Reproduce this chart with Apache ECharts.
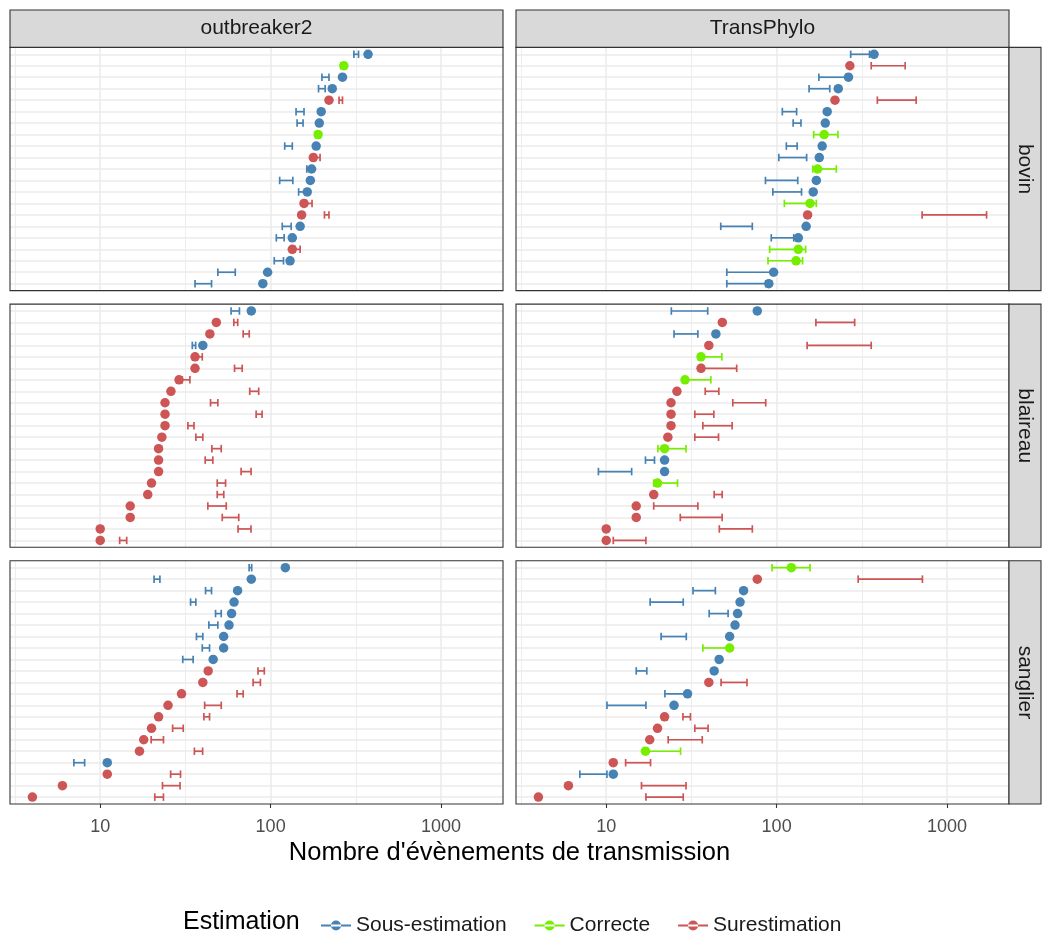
<!DOCTYPE html>
<html>
<head>
<meta charset="utf-8">
<script src="https://cdn.jsdelivr.net/npm/echarts@6/dist/echarts.min.js"></script>
<style>
  html, body { margin: 0; padding: 0; background: #fff; }
  #chart { width: 1047px; height: 936px; }
</style>
</head>
<body>
<div id="chart"></div>
<script>
// valeurs
const methods = ['outbreaker2', 'TransPhylo']
const hosts = ['bovin', 'blaireau', 'sanglier']
const statusNames = ['Sous-estimation', 'Correcte', 'Surestimation']
const statusColors = ['#4682B4', '#76EE00', '#CD5555']
const majorBreaks = [10, 100, 1000]
const minorBreaks = [3.1623, 31.623, 316.23]

// bovin : valeur réelle puis intervalles estimés
const bovinReal = [373, 269, 264, 230, 220, 198, 193, 190, 185, 178, 174, 171, 164, 157, 152, 149, 134, 134, 130, 96, 90]
const bovinOutbreakerLow = [308, 258, 200, 191, 252, 141, 143, 183, 121, 183, 163, 113, 146, 162, 207, 117, 108, 139, 105, 49, 36]
const bovinOutbreakerHigh = [328, 278, 220, 209, 264, 157, 155, 196, 134, 195, 170, 135, 160, 175, 220, 132, 120, 149, 119, 62, 45]
const bovinTransPhyloLow = [272, 359, 177, 155, 390, 108, 125, 165, 114, 103, 163, 86, 95, 111, 714, 47, 93, 91, 89, 51, 51]
const bovinTransPhyloHigh = [351, 568, 257, 205, 659, 131, 139, 229, 132, 150, 224, 133, 140, 171, 1706, 72, 126, 148, 142, 95, 86.5]

// blaireau
const blaireauReal = [77, 48, 44, 40, 36, 36, 29, 26, 24, 24, 24, 23, 22, 22, 22, 20, 19, 15, 15, 10, 10]
const blaireauOutbreakerLow = [58.6, 60.8, 69, 34.7, 36.3, 61.4, 30.3, 75.4, 44.4, 82.2, 32.7, 36.4, 45.2, 41.3, 67.1, 48.6, 48.6, 42.8, 52, 64.4, 13]
const blaireauOutbreakerHigh = [65.6, 64.1, 74.9, 36.3, 39.7, 68.1, 33.6, 85.1, 49, 89.1, 35.5, 40, 51.3, 45.8, 76.8, 54.4, 53.1, 54.9, 65, 76.7, 14.3]
const blaireauTransPhyloLow = [24.1, 170, 25, 151, 34.8, 37.2, 28.5, 38.1, 55.3, 33.1, 36.9, 33.1, 20.1, 17, 9, 19, 43, 19, 27.2, 46.1, 11]
const blaireauTransPhyloHigh = [39.4, 287, 34.5, 359, 47.7, 58.3, 41.1, 45.8, 86.3, 42.8, 54.8, 45.6, 29.4, 19.2, 14.1, 26.2, 47.9, 34.5, 47.9, 72, 17.1]

// sanglier
const sanglierReal = [122, 77, 64, 61, 59, 57, 53, 53, 46, 43, 40, 30, 25, 22, 20, 18, 17, 11, 11, 6, 4]
const sanglierOutbreakerLow = [74.8, 20.7, 41.5, 33.9, 47.5, 43.4, 36.7, 39.7, 30.5, 84.3, 78.9, 63.5, 41, 40.6, 26.6, 19.9, 35.7, 7, 25.9, 23.2, 20.9]
const sanglierOutbreakerHigh = [77.4, 22.4, 45, 36.4, 51.3, 49, 40, 43.8, 35.1, 91.8, 87.1, 69, 51.3, 43.8, 30.7, 23.5, 39.9, 8.1, 29.6, 29.4, 23.5]
const sanglierTransPhyloLow = [94, 301, 32.3, 18.1, 40.2, 55.6, 21, 36.9, 44.6, 15, 47.2, 22.1, 10.1, 28.2, 33.1, 23.1, 16.9, 13, 7, 16.1, 17.1]
const sanglierTransPhyloHigh = [157, 717, 43.7, 28.3, 51.9, 56.4, 29.5, 54, 45.4, 17.3, 67, 29.8, 17.1, 31.2, 39.6, 36.6, 27.3, 18.2, 10.1, 29.4, 28.3]

const hostData = {
  bovin: { real: bovinReal, outbreaker2: [bovinOutbreakerLow, bovinOutbreakerHigh], TransPhylo: [bovinTransPhyloLow, bovinTransPhyloHigh] },
  blaireau: { real: blaireauReal, outbreaker2: [blaireauOutbreakerLow, blaireauOutbreakerHigh], TransPhylo: [blaireauTransPhyloLow, blaireauTransPhyloHigh] },
  sanglier: { real: sanglierReal, outbreaker2: [sanglierOutbreakerLow, sanglierOutbreakerHigh], TransPhylo: [sanglierTransPhyloLow, sanglierTransPhyloHigh] }
}

// mise en page (px)
const font = '"Liberation Sans", Arial, sans-serif'
const colLeft = [10, 516]
const rowTop = [47.4, 304.1, 560.8]
const panelW = 493
const panelH = 243.2
const stripH = 37.4
const stripW = 32
const xMin = 2.955
const xMax = 2310
const rowCount = bovinReal.length

// 0 = sous-estimation, 1 = correcte, 2 = surestimation
function statusOf (real, lo, hi) {
  if (hi < real) return 0
  if (lo > real) return 2
  return 1
}

// barre d'erreur horizontale avec ses deux bouts
function renderErrorBar (params, api) {
  const y = api.value(2)
  const a = api.coord([api.value(0), y])
  const b = api.coord([api.value(1), y])
  const h = 7.5
  const style = { stroke: api.visual('color'), lineWidth: 1.7, fill: null }
  return {
    type: 'group',
    children: [
      { type: 'line', shape: { x1: a[0], y1: a[1], x2: b[0], y2: b[1] }, style },
      { type: 'line', shape: { x1: a[0], y1: a[1] - h / 2, x2: a[0], y2: a[1] + h / 2 }, style },
      { type: 'line', shape: { x1: b[0], y1: b[1] - h / 2, x2: b[0], y2: b[1] + h / 2 }, style }
    ]
  }
}

const grids = []
const xAxes = []
const yAxes = []
const series = []
const graphics = []
const rowTicks = []
for (let i = 0; i < rowCount; i++) rowTicks.push(i)

hosts.forEach((host, r) => {
  methods.forEach((method, c) => {
    const k = r * 2 + c
    const isBottom = r === hosts.length - 1
    grids.push({ left: colLeft[c], top: rowTop[r], width: panelW, height: panelH, show: false })

    // lignes de grille secondaires
    xAxes.push({
      type: 'log', gridIndex: k, min: xMin, max: xMax, position: 'bottom',
      axisLine: { show: false },
      axisTick: { show: false, customValues: minorBreaks },
      axisLabel: { show: false },
      splitLine: { show: true, lineStyle: { color: '#EBEBEB', width: 0.9 } }
    })
    // lignes principales, graduations et étiquettes
    xAxes.push({
      type: 'log', gridIndex: k, min: xMin, max: xMax, position: 'bottom',
      axisLine: { show: false },
      axisTick: { show: isBottom, customValues: majorBreaks, length: 4, lineStyle: { color: '#333333', width: 1.1 } },
      axisLabel: {
        show: isBottom, customValues: majorBreaks, margin: 14,
        color: '#4D4D4D', fontSize: 18, fontFamily: font,
        formatter: v => String(Math.round(v))
      },
      splitLine: { show: true, lineStyle: { color: '#EBEBEB', width: 1.5 } }
    })
    yAxes.push({
      type: 'value', gridIndex: k, min: -0.6, max: rowCount - 0.4, inverse: true,
      axisLine: { show: false },
      axisTick: { show: false, customValues: rowTicks },
      axisLabel: { show: false },
      splitLine: { show: true, lineStyle: { color: '#EBEBEB', width: 1.5 } }
    })

    const d = hostData[host]
    const lo = d[method][0]
    const hi = d[method][1]
    statusNames.forEach((name, s) => {
      const bars = []
      const pts = []
      d.real.forEach((v, i) => {
        if (statusOf(v, lo[i], hi[i]) !== s) return
        bars.push([lo[i], hi[i], i])
        pts.push([v, i])
      })
      series.push({
        type: 'custom', name, xAxisIndex: 2 * k, yAxisIndex: k,
        renderItem: renderErrorBar, encode: { x: [0, 1], y: 2 },
        itemStyle: { color: statusColors[s] }, data: bars, z: 3, silent: true
      })
      series.push({
        type: 'scatter', name, xAxisIndex: 2 * k, yAxisIndex: k,
        symbolSize: 9.5, itemStyle: { color: statusColors[s], opacity: 1 },
        data: pts, z: 4, silent: true
      })
    })

    // cadre du panneau
    graphics.push({
      type: 'rect', z: 100,
      shape: { x: colLeft[c], y: rowTop[r], width: panelW, height: panelH },
      style: { fill: null, stroke: '#333333', lineWidth: 1.1 }
    })
  })
})

// bandeaux du haut
methods.forEach((m, c) => {
  graphics.push({
    type: 'rect', z: 100,
    shape: { x: colLeft[c], y: rowTop[0] - stripH, width: panelW, height: stripH },
    style: { fill: '#D9D9D9', stroke: '#333333', lineWidth: 1.1 }
  })
  graphics.push({
    type: 'text', z: 101, x: colLeft[c] + panelW / 2, y: rowTop[0] - stripH / 2,
    style: { text: m, fill: '#1A1A1A', font: '21px ' + font, align: 'center', verticalAlign: 'middle' }
  })
})
// bandeaux de droite
hosts.forEach((h, r) => {
  const x0 = colLeft[1] + panelW
  graphics.push({
    type: 'rect', z: 100,
    shape: { x: x0, y: rowTop[r], width: stripW, height: panelH },
    style: { fill: '#D9D9D9', stroke: '#333333', lineWidth: 1.1 }
  })
  graphics.push({
    type: 'text', z: 101, x: x0 + stripW / 2, y: rowTop[r] + panelH / 2, rotation: -Math.PI / 2,
    style: { text: h, fill: '#1A1A1A', font: '21px ' + font, align: 'center', verticalAlign: 'middle' }
  })
})
// titre de l'axe x et titre de la légende
graphics.push({
  type: 'text', z: 101, x: (colLeft[0] + colLeft[1] + panelW) / 2, y: 853,
  style: { text: "Nombre d'évènements de transmission", fill: '#000', font: '25.5px ' + font, align: 'center', verticalAlign: 'middle' }
})
graphics.push({
  type: 'text', z: 101, x: 183, y: 922,
  style: { text: 'Estimation', fill: '#000', font: '25px ' + font, align: 'left', verticalAlign: 'middle' }
})

const legendIcon = 'path://M0,4H30V6H0Z M15,0A5,5 0 1 0 15.01,0Z'

const chart = echarts.init(document.getElementById('chart'))
chart.setOption({
  animation: false,
  grid: grids,
  xAxis: xAxes,
  yAxis: yAxes,
  legend: {
    left: 316, top: 910,
    itemWidth: 30, itemHeight: 10, itemGap: 28,
    selectedMode: false,
    textStyle: { fontSize: 21, color: '#1A1A1A', fontFamily: font },
    data: statusNames.map(n => ({ name: n, icon: legendIcon }))
  },
  graphic: graphics,
  series
})
</script>
</body>
</html>
